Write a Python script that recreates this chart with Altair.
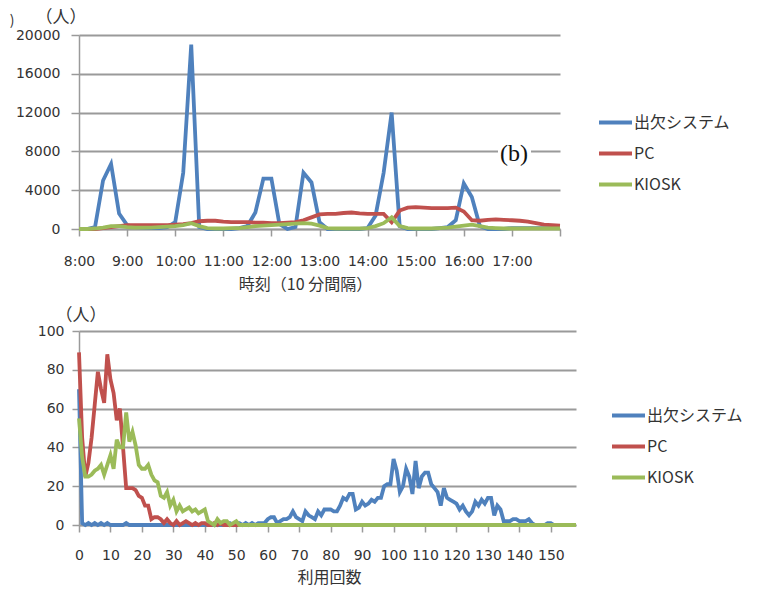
import altair as alt
import pandas as pd

series = ["出欠システム", "PC", "KIOSK"]
colors = ["#4F81BD", "#C0504D", "#9BBB59"]

# ---- top panel: minutes after 8:00, 10-minute steps (8:00 .. 18:00)
top_minutes = [0, 10, 20, 30, 40, 50, 60, 70, 80, 90,
               100, 110, 120, 130, 140, 150, 160, 170, 180, 190,
               200, 210, 220, 230, 240, 250, 260, 270, 280, 290,
               300, 310, 320, 330, 340, 350, 360, 370, 380, 390,
               400, 410, 420, 430, 440, 450, 460, 470, 480, 490,
               500, 510, 520, 530, 540, 550, 560, 570, 580, 590,
               600]
top_attend = [0, 0, 200, 5000, 6700, 1600, 400, 200, 150, 100,
              100, 200, 700, 5800, 19000, 200, 0, 0, 0, 0,
              100, 300, 1700, 5200, 5200, 500, 0, 200, 5800, 4800,
              700, 0, 0, 0, 0, 0, 100, 1400, 5800, 12000,
              300, 0, 0, 0, 0, 100, 200, 900, 4700, 3300,
              300, 0, 0, 0, 100, 100, 100, 100, 100, 100,
              100]
top_pc = [0, 0, 0, 100, 200, 300, 400, 400, 400, 400,
          400, 400, 450, 500, 600, 800, 850, 850, 750, 700,
          700, 700, 650, 650, 600, 600, 650, 700, 900, 1200,
          1500, 1550, 1550, 1650, 1700, 1600, 1550, 1550, 1550, 700,
          1900, 2200, 2250, 2200, 2150, 2150, 2150, 2200, 1800, 900,
          850, 950, 1000, 950, 900, 850, 750, 600, 450, 400,
          350]
top_kiosk = [0, 0, 50, 150, 300, 300, 200, 150, 150, 150,
             200, 250, 300, 400, 600, 300, 100, 50, 50, 100,
             100, 200, 300, 350, 400, 450, 500, 550, 600, 550,
             350, 100, 50, 50, 50, 50, 100, 300, 600, 1200,
             300, 100, 50, 50, 50, 100, 150, 250, 350, 450,
             300, 150, 100, 50, 50, 50, 50, 50, 50, 50,
             50]
top_xticks = [0, 60, 120, 180, 240, 300, 360, 420, 480, 540, 600]
top_yticks = [0, 4000, 8000, 12000, 16000, 20000]

# ---- bottom panel: number of uses 0 .. 158
bottom_counts = list(range(0, 159))
bottom_attend = [70, 1, 0, 1, 0, 1, 0, 1, 0, 1,
                 0, 0, 0, 0, 0, 1, 0, 0, 0, 0,
                 0, 0, 0, 0, 0, 0, 0, 0, 0, 0,
                 0, 0, 0, 0, 0, 0, 0, 0, 0, 0,
                 0, 0, 0, 0, 0, 0, 0, 1, 1, 0,
                 1, 1, 0, 1, 0, 1, 0, 1, 1, 1,
                 3, 4, 4, 1, 2, 3, 3, 4, 7, 4,
                 3, 2, 7, 5, 4, 3, 7, 5, 8, 8,
                 8, 7, 7, 10, 14, 13, 16, 16, 8, 9,
                 12, 10, 11, 13, 12, 14, 14, 20, 21, 21,
                 34, 28, 17, 20, 29, 25, 16, 33, 19, 25,
                 27, 27, 21, 19, 17, 10, 19, 14, 13, 12,
                 11, 8, 10, 7, 5, 7, 12, 10, 13, 11,
                 14, 14, 5, 10, 8, 2, 2, 2, 3, 3,
                 2, 2, 2, 3, 1, 0, 0, 0, 0, 1,
                 1, 0, 0, 0, 0, 0, 0, 0, 0]
bottom_pc = [89, 45, 25, 32, 45, 62, 79, 70, 63, 88,
             75, 68, 54, 60, 40, 19, 19, 19, 18, 15,
             14, 10, 10, 3, 4, 4, 3, 1, 3, 1,
             0, 2, 0, 1, 2, 1, 0, 1, 0, 1,
             1, 0, 0, 1, 0, 1, 0, 0, 0, 0,
             0, 0, 0, 0, 0, 0, 0, 0, 0, 0,
             0, 0, 0, 0, 0, 0, 0, 0, 0, 0,
             0, 0, 0, 0, 0, 0, 0, 0, 0, 0,
             0, 0, 0, 0, 0, 0, 0, 0, 0, 0,
             0, 0, 0, 0, 0, 0, 0, 0, 0, 0,
             0, 0, 0, 0, 0, 0, 0, 0, 0, 0,
             0, 0, 0, 0, 0, 0, 0, 0, 0, 0,
             0, 0, 0, 0, 0, 0, 0, 0, 0, 0,
             0, 0, 0, 0, 0, 0, 0, 0, 0, 0,
             0, 0, 0, 0, 0, 0, 0, 0, 0, 0,
             0, 0, 0, 0, 0, 0, 0, 0, 0]
bottom_kiosk = [55, 35, 25, 25, 26, 28, 29, 31, 26, 31,
                36, 29, 44, 40, 40, 58, 43, 48, 41, 31,
                29, 29, 31, 26, 23, 22, 15, 14, 17, 10,
                13, 7, 10, 7, 8, 9, 7, 8, 6, 7,
                8, 2, 1, 0, 3, 1, 2, 2, 0, 1,
                2, 0, 0, 0, 0, 0, 0, 0, 0, 0,
                0, 0, 0, 0, 0, 0, 0, 0, 0, 0,
                0, 0, 0, 0, 0, 0, 0, 0, 0, 0,
                0, 0, 0, 0, 0, 0, 0, 0, 0, 0,
                0, 0, 0, 0, 0, 0, 0, 0, 0, 0,
                0, 0, 0, 0, 0, 0, 0, 0, 0, 0,
                0, 0, 0, 0, 0, 0, 0, 0, 0, 0,
                0, 0, 0, 0, 0, 0, 0, 0, 0, 0,
                0, 0, 0, 0, 0, 0, 0, 0, 0, 0,
                0, 0, 0, 0, 0, 0, 0, 0, 0, 0,
                0, 0, 0, 0, 0, 0, 0, 0, 0]
bottom_xticks = [0, 10, 20, 30, 40, 50, 60, 70, 80, 90, 100, 110, 120, 130, 140, 150]
bottom_yticks = [0, 20, 40, 60, 80, 100]

GRID = "#9a9a9a"
TXT = "#333333"
NUM_FONT = "DejaVu Sans"
JP_FONT = "Noto Sans CJK JP"


def long_df(xs, cols):
    rows = []
    for name, vals in zip(series, cols):
        for x, v in zip(xs, vals):
            rows.append({"x": x, "value": v, "series": name})
    return pd.DataFrame(rows)


top_df = long_df(top_minutes, [top_attend, top_pc, top_kiosk])
bot_df = long_df(bottom_counts, [bottom_attend, bottom_pc, bottom_kiosk])

color_scale = alt.Scale(domain=series, range=colors)


def legend(x, y):
    return alt.Legend(
        title=None, orient="none", legendX=x, legendY=y,
        symbolType="stroke", symbolSize=1089, symbolStrokeWidth=4,
        labelFont=JP_FONT, labelFontSize=16, labelColor=TXT,
        labelOffset=0, rowPadding=4, labelLimit=300,
    )


def panel(df, xenc, yenc, leg, w, h, extra=None):
    layers = []
    for name in series:
        layers.append(
            alt.Chart(df[df["series"] == name])
            .mark_line(strokeWidth=3.8)
            .encode(
                x=xenc, y=yenc,
                color=alt.Color("series:N", scale=color_scale, legend=leg),
            )
        )
    if extra:
        layers = extra[:1] + layers + extra[1:]
    return alt.layer(*layers).properties(width=w, height=h)


def xaxis(values, title, tx, ty, lpad, label_expr=None):
    kw = dict(
        values=values, title=title, grid=False,
        domainColor=GRID, domainWidth=1.5, tickColor=GRID, tickWidth=1.5,
        tickSize=7, labelPadding=lpad, labelFont=NUM_FONT, labelFontSize=14,
        labelColor=TXT, titleFont=JP_FONT, titleFontSize=16,
        titleFontWeight="normal", titleColor=TXT, titleX=tx, titleY=ty,
        titleAlign="center", titleBaseline="middle", labelFlush=False,
    )
    if label_expr:
        kw["labelExpr"] = label_expr
    return alt.Axis(**kw)


def yaxis(values, tick, pad, tx, ty):
    return alt.Axis(
        values=values, format="d", title="（人）", grid=True,
        gridColor=GRID, gridWidth=1.8, domainColor=GRID, domainWidth=1.5,
        tickColor=GRID, tickWidth=1.5, tickSize=tick, labelPadding=pad,
        labelFont=NUM_FONT, labelFontSize=14, labelColor=TXT,
        titleFont=JP_FONT, titleFontSize=17, titleFontWeight="normal",
        titleColor=TXT, titleAngle=0, titleX=tx, titleY=ty,
        titleAlign="left", titleBaseline="middle",
    )


# annotation layers for top panel
tag_df = pd.DataFrame({"t": ["(b)"]})
cut_df = pd.DataFrame({"t": [")"]})
bg = alt.Chart(tag_df).mark_rect(color="white").encode(
    x=alt.value(419), x2=alt.value(452), y=alt.value(106), y2=alt.value(132)
)
tag = alt.Chart(tag_df).mark_text(
    font="Liberation Serif", fontSize=24, color="#111111",
    align="center", baseline="middle"
).encode(text="t:N", x=alt.value(435), y=alt.value(119))
cut = alt.Chart(cut_df).mark_text(
    font=JP_FONT, fontSize=14, color=TXT, align="center", baseline="middle"
).encode(text="t:N", x=alt.value(-67), y=alt.value(-14))

top = panel(
    top_df,
    alt.X("x:Q", scale=alt.Scale(domain=[0, 600], nice=False, zero=False),
          axis=xaxis(top_xticks, "時刻（10 分間隔）", 226, 55, 18,
                     "datum.value < 600 ? format(8 + datum.value / 60, 'd') + ':00' : ''")),
    alt.Y("value:Q", scale=alt.Scale(domain=[0, 20000], nice=False),
          axis=yaxis(top_yticks, 8, 11, -44, -18)),
    legend(518, 69), 481, 194, extra=[bg, tag, cut],
)

bottom = panel(
    bot_df,
    alt.X("x:Q", scale=alt.Scale(domain=[0, 158], nice=False, zero=False),
          axis=xaxis(bottom_xticks, "利用回数", 250, 52, 16)),
    alt.Y("value:Q", scale=alt.Scale(domain=[0, 100], nice=False),
          axis=yaxis(bottom_yticks, 7, 8, -24, -16)),
    legend(531, 66), 497, 194,
)

chart = (
    alt.vconcat(top, bottom, spacing=14)
    .resolve_scale(color="independent", x="independent", y="independent")
    .resolve_legend(color="independent")
    .configure(padding={"left": 9, "top": 8, "right": 0, "bottom": 4})
    .configure_view(stroke=None)
)

chart.save("out.html", embed_options={"renderer": "svg", "actions": False})
